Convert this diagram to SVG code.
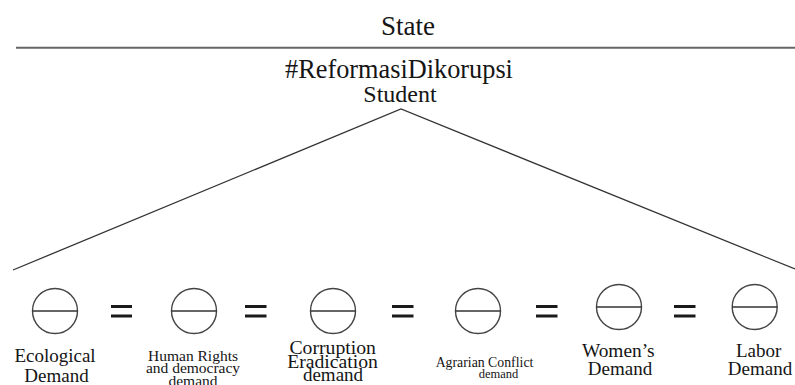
<svg xmlns="http://www.w3.org/2000/svg" width="795" height="385" viewBox="0 0 795 385">
<style>
text{font-family:"Liberation Serif","Times New Roman",serif;fill:#151515;text-anchor:middle}
.big{font-size:19px}
.sm{font-size:15.5px}
.xs{font-size:13.8px}
.ring{fill:none;stroke:#444;stroke-width:1.4}
.bar{stroke:#333;stroke-width:1.3}
.eq{fill:#1a1a1a}
.conn{stroke:#333;stroke-width:1.3;fill:none}
</style>
<rect width="795" height="385" fill="#fff"/>
<g id="state">
<text x="408" y="35" style="font-family:'Liberation Serif','Times New Roman',serif;font-size:27px">State</text>
<line x1="16" y1="47.7" x2="795" y2="47.7" stroke="#666" stroke-width="2"/>
</g>
<g id="student">
<text x="399" y="77.5" style="font-family:'Liberation Serif','Times New Roman',serif;font-size:26.3px">#ReformasiDikorupsi</text>
<text x="400" y="101.5" style="font-family:'Liberation Serif','Times New Roman',serif;font-size:24px">Student</text>
</g>
<g id="connectors">
<polyline class="conn" points="13,270 401,109 795,269"/>
<g class="eq">
<rect x="111" y="305" width="21" height="3"/><rect x="111" y="314.5" width="21" height="3"/>
<rect x="245" y="305" width="21.5" height="3"/><rect x="245" y="314.5" width="21.5" height="3"/>
<rect x="392" y="305" width="21.5" height="3"/><rect x="392" y="314.5" width="21.5" height="3"/>
<rect x="536" y="305" width="21.5" height="3"/><rect x="536" y="314.5" width="21.5" height="3"/>
<rect x="674" y="305" width="21.5" height="3"/><rect x="674" y="314.5" width="21.5" height="3"/>
</g>
</g>
<g id="ecological">
<circle class="ring" cx="55" cy="311" r="22.5"/>
<line class="bar" x1="32.5" y1="311" x2="77.5" y2="311"/>
<text class="big" x="55" y="361.7">Ecological</text>
<text class="big" x="56.5" y="381.7">Demand</text>
</g>
<g id="human-rights">
<circle class="ring" cx="194" cy="311" r="22.5"/>
<line class="bar" x1="171.5" y1="311" x2="216.5" y2="311"/>
<text class="sm" x="193" y="360.7">Human Rights</text>
<text class="sm" x="193" y="373.3">and democracy</text>
<text class="sm" x="193" y="386">demand</text>
</g>
<g id="corruption">
<circle class="ring" cx="333" cy="311" r="22.5"/>
<line class="bar" x1="310.5" y1="311" x2="355.5" y2="311"/>
<text class="big" x="332.7" y="354" style="font-size:19.7px">Corruption</text>
<text class="big" x="332.5" y="367.5" style="font-size:19.7px">Eradication</text>
<text class="big" x="333" y="381">demand</text>
</g>
<g id="agrarian">
<circle class="ring" cx="478" cy="311" r="22.5"/>
<line class="bar" x1="455.5" y1="311" x2="500.5" y2="311"/>
<text class="xs" x="484.5" y="366.7">Agrarian Conflict</text>
<text class="xs" x="498.5" y="378.3" style="font-size:12.5px">demand</text>
</g>
<g id="women">
<circle class="ring" cx="619" cy="307" r="22.5"/>
<line class="bar" x1="596.5" y1="307" x2="641.5" y2="307"/>
<text class="big" x="618.3" y="357.3" style="font-size:19.4px">Women’s</text>
<text class="big" x="620" y="375">Demand</text>
</g>
<g id="labor">
<circle class="ring" cx="754.7" cy="307" r="22.5"/>
<line class="bar" x1="732.2" y1="307" x2="777.2" y2="307"/>
<text class="big" x="758.7" y="357.3">Labor</text>
<text class="big" x="760" y="375">Demand</text>
</g>
</svg>
